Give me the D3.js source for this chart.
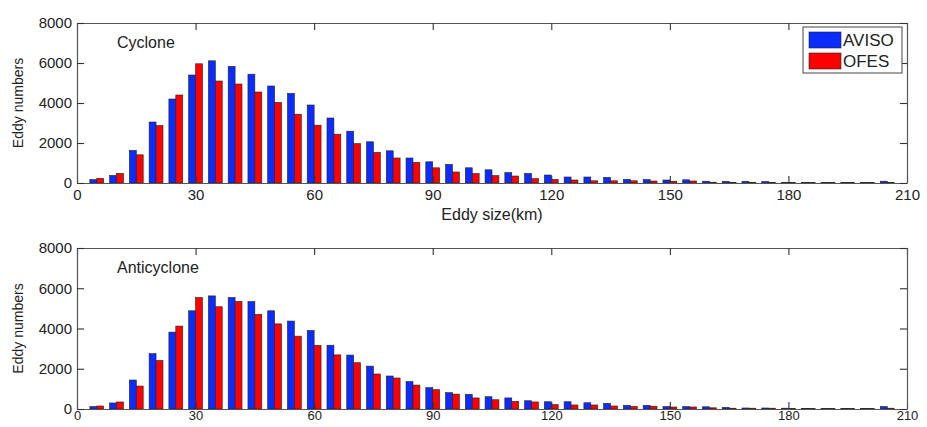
<!DOCTYPE html>
<html>
<head>
<meta charset="utf-8">
<script src="https://cdn.jsdelivr.net/npm/d3@7"></script>
<style>
  html, body { margin: 0; padding: 0; background: #fff; }
  svg text { font-family: "Liberation Sans", Arial, sans-serif; fill: #222; }
</style>
</head>
<body>
<svg id="chart" width="927" height="427"></svg>
<script>
// Eddy size bin centres (km)
const sizes = [5,10,15,20,25,30,35,40,45,50,55,60,65,70,75,80,85,90,95,100,105,110,115,120,125,130,135,140,145,150,155,160,165,170,175,180,185,190,195,200,205];

// Cyclone
const cycAviso = [170,380,1630,3050,4200,5400,6110,5830,5440,4850,4480,3900,3250,2590,2060,1610,1250,1060,930,760,660,520,480,400,300,300,280,180,170,150,160,90,80,80,70,30,30,30,30,30,90];
const cycOfes  = [230,480,1410,2870,4400,5960,5100,4950,4550,4030,3440,2890,2440,1970,1530,1250,1030,760,550,470,370,350,220,180,150,110,110,110,100,90,100,40,30,30,30,30,20,20,20,20,30];

// Anticyclone
const antiAviso = [120,300,1440,2750,3820,4880,5620,5540,5340,4880,4370,3900,3170,2680,2130,1640,1360,1060,810,730,610,550,410,360,360,310,280,180,180,120,120,110,80,50,50,40,30,30,30,30,120];
const antiOfes  = [150,350,1140,2410,4120,5540,5080,5340,4700,4230,3620,3160,2690,2300,1740,1540,1190,960,740,550,460,380,350,220,200,200,150,130,140,100,100,60,40,40,40,30,20,20,20,20,40];

const xTicks = [0,30,60,90,120,150,180,210];
const yTicks = [0,2000,4000,6000,8000];
const seriesNames = ["AVISO","OFES"];
const seriesColors = ["#0a2cff","#ff0000"];

const svg = d3.select("#chart");
const left = 77, right = 907;

const x = d3.scaleLinear().domain([0,210]).range([left,right]);
const barW = x(1.75) - x(0);

function panel(top, bottom, a, b, title, showXLabel, showLegend, xFont, xPad) {
  const y = d3.scaleLinear().domain([0,8000]).range([bottom, top]);
  const g = svg.append("g");

  // bars
  const data = sizes.map((s,i) => ({s, a:a[i], b:b[i]}));
  g.selectAll("rect.a").data(data).join("rect")
    .attr("x", d => x(d.s) - barW).attr("width", barW)
    .attr("y", d => y(d.a)).attr("height", d => y(0) - y(d.a))
    .attr("fill", seriesColors[0]).attr("stroke", "#222").attr("stroke-width", 0.6);
  g.selectAll("rect.b").data(data).join("rect")
    .attr("x", d => x(d.s)).attr("width", barW)
    .attr("y", d => y(d.b)).attr("height", d => y(0) - y(d.b))
    .attr("fill", seriesColors[1]).attr("stroke", "#222").attr("stroke-width", 0.6);

  // axes (MATLAB style: inner ticks on all four sides)
  const tl = 7;
  const axB = d3.axisBottom(x).tickValues(xTicks).tickSizeInner(-tl).tickSizeOuter(0).tickPadding(xPad);
  const axT = d3.axisTop(x).tickValues(xTicks).tickSizeInner(-tl).tickSizeOuter(0).tickFormat("");
  const axL = d3.axisLeft(y).tickValues(yTicks).tickSizeInner(-tl).tickSizeOuter(0).tickPadding(5).tickFormat(d3.format("d"));
  const axR = d3.axisRight(y).tickValues(yTicks).tickSizeInner(-tl).tickSizeOuter(0).tickFormat("");

  const gb = g.append("g").attr("transform", `translate(0,${bottom})`).call(axB);
  const gt = g.append("g").attr("transform", `translate(0,${top})`).call(axT);
  const gl = g.append("g").attr("transform", `translate(${left},0)`).call(axL);
  const gr = g.append("g").attr("transform", `translate(${right},0)`).call(axR);
  [gb,gt,gl,gr].forEach(s => {
    s.select(".domain").attr("stroke", "#555").attr("stroke-width", 1.2);
    s.selectAll(".tick line").attr("stroke", "#333").attr("stroke-width", 1.1);
    s.selectAll(".tick text").attr("font-size", 15).attr("fill", "#222")
      .style("font-family", '"Liberation Sans", Arial, sans-serif');
  });
  gb.selectAll(".tick text").attr("font-size", xFont).attr("dy", "0.71em");

  // y label
  g.append("text")
    .attr("transform", `translate(23,${(top+bottom)/2}) rotate(-90)`)
    .attr("text-anchor", "middle").attr("font-size", 14).text("Eddy numbers");

  // panel title
  g.append("text").attr("x", 117).attr("y", top + 25)
    .attr("font-size", 16).text(title);

  if (showXLabel) {
    g.append("text").attr("x", (left+right)/2).attr("y", bottom + 37)
      .attr("text-anchor", "middle").attr("font-size", 16).text("Eddy size(km)");
  }

  if (showLegend) {
    const lg = g.append("g");
    lg.append("rect").attr("x", 803).attr("y", 27).attr("width", 99).attr("height", 46)
      .attr("fill", "#fff").attr("stroke", "#444").attr("stroke-width", 1);
    seriesNames.forEach((n,i) => {
      lg.append("rect").attr("x", 809).attr("y", 32 + i*21).attr("width", 32).attr("height", 16)
        .attr("fill", seriesColors[i]).attr("stroke", "#222").attr("stroke-width", 0.6);
      lg.append("text").attr("x", 843).attr("y", 46 + i*21).attr("font-size", 17).text(n);
    });
  }
}

panel(23, 183, cycAviso, cycOfes, "Cyclone", true, true, 15, 6);
panel(248, 409, antiAviso, antiOfes, "Anticyclone", false, false, 13, 2);
</script>
</body>
</html>
